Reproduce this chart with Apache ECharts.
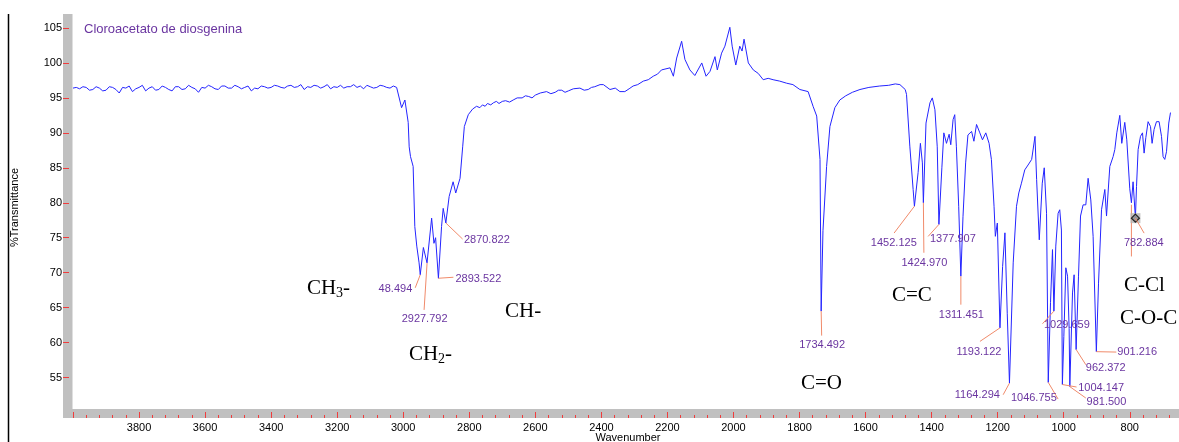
<!DOCTYPE html>
<html>
<head>
<meta charset="utf-8">
<script src="https://cdn.jsdelivr.net/npm/echarts@6/dist/echarts.min.js"></script>
<style>
    html, body { margin: 0; padding: 0; background: #fff; }
    #chart_div { width: 1179px; height: 442px; }
</style>
</head>
<body>
<div id="chart_div"></div>
<script>
// flat part 4000 -> 3020 cm-1, one reading every 10 cm-1
var baselineStart = 4000, baselineStep = 10;
var baselineT = [96.4,96.5,96.3,96.6,96.5,96.1,96.2,96.6,96.4,96.0,96.1,96.6,96.5,96.2,95.7,96.5,96.4,96.7,95.9,96.3,
    96.5,96.8,96.0,96.4,96.6,96.1,96.2,96.7,96.5,96.2,96.0,96.6,96.6,96.2,96.3,96.8,96.5,96.3,95.8,96.5,
    96.4,96.8,96.6,96.3,96.2,96.7,96.7,96.4,96.4,96.8,96.6,96.3,96.5,96.7,96.0,96.4,96.3,96.7,96.6,96.4,
    96.5,96.8,96.7,96.5,96.4,96.7,96.8,96.5,96.6,96.9,96.2,96.6,96.5,96.8,96.7,96.4,96.6,96.9,96.3,96.6,
    96.5,96.8,96.4,96.6,96.6,96.9,96.5,96.7,96.3,96.8,96.6,96.4,96.5,96.8,96.7,96.5,96.4,96.7,96.5];

// rest of the spectrum (cm-1, %T)
var wavenumber = [3005,2995,2985,2982,2978,2970,2965,2959,2952,2948.5,
    2939,2928,2914,2907,2902,2893.5,2884,2879,2871,2861,2849,2841,2828,2820,2815,2803,2790,2778,2768,2760,2752,2745,
    2735,2727,2718,2710,2700,2690,2678,2667,2655,2640,2630,2620,2610,2600,2585,2566,2553,2540,2530,2520,2510,2500,2485,2465,2452,2440,2430,2420,2404,2394,2374,2358,2344,2329,2316,2304,
    2290,2273,2258,2243,2230,2218,2192,2182,2172,2157,2147,2132,2117,2096,2083,2071,2056,2049,2036,2026,
    2011,2004,1993,1981,1974,1968,1955,1940,1925,1910,1895,1880,1860,1839,1820,1799,1774,1759,1748,1738,
    1734.5,1729,1718,1708,1693,1678,1660,1640,1617,1590,1557,1530,1510,1496,1480,1476,1466,1456,1452.1,1441,
    1434,1428,1425,1417,1405,1398,1390,1383,1377.9,1369,1363,1355,1347,1342,1335,1330,1325,1318,1311.5,1305,
    1297,1290,1279,1272,1264,1254,1246,1236,1226,1219,1211,1207,1201,1193.1,1185,1178,1171,1164.3,1153,1143,
    1136,1128,1118,1108,1097,1087,1082,1074,1065,1059,1052,1046.8,1040,1034,1029.7,1024,1017,1012,1007,1004.1,
    999.6,993.6,988.4,983.6,981.5,973.4,968.5,962.4,955.2,949.1,941.3,933.1,926.1,918,911,901.2,894.6,885.5,875.5,870.4,
    860.4,850.4,845.3,839.3,830.2,824.2,815.1,809,800,795,790,782.9,779.6,774.7,767.5,761.4,756.6,751.4,744.5,737.2,
    732.4,726.3,719.1,711.2,703.9,699.1,694,688.8,681.9,676.7];
var transmittance = [93.6,94.7,91.5,88.0,86.6,85.2,76.6,73.8,71.4,69.7,
    73.6,71.4,77.8,74.2,75.0,69.2,76.6,79.2,77.1,80.9,83.0,81.4,83.5,88.0,90.9,92.6,93.4,93.8,93.6,94.0,93.8,94.2,
    94.0,94.3,94.5,94.2,94.5,94.6,94.4,94.7,95.0,95.0,95.3,95.2,95.0,95.4,95.7,95.9,95.6,95.8,96.1,96.1,95.8,96.0,96.3,96.4,96.1,96.2,96.5,96.6,96.9,96.9,96.2,96.4,95.9,95.9,96.3,96.7,
    96.9,97.4,97.6,98.1,98.4,99.0,99.3,98.1,100.7,103.1,100.5,99.0,98.2,100.0,98.1,98.8,100.9,99.0,101.4,102.4,
    105.1,102.4,99.7,102.4,101.7,103.4,100.0,99.0,98.5,97.6,97.8,97.6,97.4,97.1,96.9,96.2,95.9,93.8,92.4,86.2,
    64.5,76.0,85.2,90.9,93.6,94.7,95.3,95.8,96.2,96.5,96.7,96.8,97.0,96.9,96.2,95.5,88.1,81.9,79.5,84.3,
    88.5,85.7,80.0,91.4,94.3,95.0,93.3,88.0,76.9,85.0,90.0,88.5,89.8,88.3,91.9,92.6,88.0,79.5,69.5,78.0,
    85.7,89.7,90.2,88.8,91.2,90.0,89.0,90.0,88.5,86.2,79.5,75.2,77.1,62.1,70.9,75.7,64.2,54.2,71.4,79.5,
    81.4,82.8,84.7,85.4,86.2,89.5,83.3,74.7,82.8,85.0,78.5,54.3,65.7,73.3,64.5,73.8,78.5,79.0,76.1,54.0,
    60.9,70.7,69.5,62.0,53.7,67.1,69.7,59.0,69.5,78.1,79.7,79.7,83.5,80.4,75.2,58.7,68.5,79.0,81.9,78.1,
    85.2,86.6,87.6,90.0,92.5,88.5,91.5,89.0,82.0,80.0,83.0,77.8,82.3,87.6,89.5,90.0,87.1,89.3,91.6,90.9,
    88.5,90.5,91.6,91.6,89.5,86.6,86.2,87.3,91.4,92.9];

// picked peaks
var peakWn = [2948.494, 2927.792, 2893.522, 2870.822, 1734.492, 1452.125, 1424.970, 1377.907, 1311.451,
    1193.122, 1164.294, 1046.755, 1029.659, 1004.147, 981.500, 962.372, 901.216, 782.884];
var peakT = [69.7, 71.4, 69.2, 77.1, 64.5, 79.5, 80.0, 76.9, 69.5, 62.1, 54.2, 54.3, 64.5, 54.0, 53.7, 59.0, 58.7, 77.8];
var peakText = ['48.494', '2927.792', '2893.522', '2870.822', '1734.492', '1452.125', '1424.970', '1377.907', '1311.451',
    '1193.122', '1164.294', '1046.755', '1029.659', '1004.147', '981.500', '962.372', '901.216', '782.884'];

// tick labels
var xLabels = [800, 1000, 1200, 1400, 1600, 1800, 2000, 2200, 2400, 2600, 2800, 3000, 3200, 3400, 3600, 3800];
var xMajorTicks = [800, 1000, 1200, 1400, 1600, 1800, 2000, 2200, 2400, 2600, 2800, 3000, 3200, 3400, 3600, 3800, 4000];
var xMinorTicks = [];
for (var t = 680; t < 4000; t += 40) { if (t % 200 !== 0) xMinorTicks.push(t); }
var yLabels = [55, 60, 65, 70, 75, 80, 85, 90, 95, 100, 105];

// label placement: [line end dx, dy, text dx, dy, align]
var peakLayout = [
    [-5, 13, -8, 14.5, 'right'],
    [-3, 47, -2.5, 56, 'center'],
    [15, -1, 17, 0.5, 'left'],
    [16.7, 16, 18, 17, 'left'],
    [0.5, 24.5, 1, 34, 'center'],
    [-20.3, 26.8, -20.6, 36.5, 'center'],
    [0.5, 50, 1, 60, 'center'],
    [-10.8, 12, -9, 14.5, 'left'],
    [0, 28.5, 0.5, 38.5, 'center'],
    [-20, 13.5, -21, 24.3, 'center'],
    [-6.3, 11.6, -9.6, 12, 'right'],
    [9.8, 16.6, 8.5, 15.8, 'right'],
    [-11.4, 12.6, -10, 13.6, 'left'],
    [14.2, 2.5, 15.8, 3, 'left'],
    [16, 11.4, 16.7, 15, 'left'],
    [9.7, 15.2, 9.7, 18.5, 'left'],
    [20, 0.4, 21, 0.4, 'left'],
    [8.7, 15, 8.4, 25.3, 'center']
];

var sans = '"Liberation Sans", Arial, sans-serif';
var serif = '"Liberation Serif", "Times New Roman", serif';
var purple = '#6a35a0';
var salmon = '#f08a6a';
var tickRed = '#f03c3c';

var spectrum = [];
for (var b = 0; b < baselineT.length; b++) spectrum.push([baselineStart - b * baselineStep, baselineT[b]]);
for (var i = 0; i < wavenumber.length; i++) spectrum.push([wavenumber[i], transmittance[i]]);

var myChart = echarts.init(document.getElementById('chart_div'));
myChart.setOption({
    animation: false,
    grid: { left: 73, right: 3, top: 14, bottom: 33 },
    xAxis: [
        {
            type: 'value', min: 660, max: 4000, inverse: true, position: 'bottom', offset: 9, z: 5,
            axisLine: { show: false },
            axisTick: { inside: true, length: 6, customValues: xMajorTicks, lineStyle: { color: tickRed } },
            axisLabel: { customValues: xLabels, margin: 4, fontSize: 11, color: '#000', fontFamily: sans,
                formatter: function (v) { return String(v); } },
            splitLine: { show: false }
        },
        {
            type: 'value', min: 660, max: 4000, inverse: true, position: 'bottom', offset: 9, z: 5,
            axisLine: { show: false },
            axisTick: { inside: true, length: 3, customValues: xMinorTicks, lineStyle: { color: tickRed } },
            axisLabel: { show: false },
            splitLine: { show: false }
        }
    ],
    yAxis: {
        type: 'value', min: 50.5, max: 107, offset: 4, z: 5,
        axisLine: { show: false },
        axisTick: { length: 6, customValues: yLabels, lineStyle: { color: tickRed } },
        axisLabel: { customValues: yLabels, margin: 7, fontSize: 11, color: '#000', fontFamily: sans },
        splitLine: { show: false }
    },
    series: [
        {
            type: 'line', data: spectrum, showSymbol: false, silent: true,
            lineStyle: { color: '#2424ff', width: 1 }, z: 3
        },
        {
            type: 'scatter', data: [[peakWn[17], peakT[17]]], symbol: 'rect', symbolSize: 10,
            itemStyle: { color: '#b4b4b4' }, z: 4, silent: true
        },
        {
            type: 'scatter', data: [[peakWn[17], peakT[17]]], symbol: 'diamond', symbolSize: 8,
            itemStyle: { color: '#8c8c8c', borderColor: '#000', borderWidth: 1.2 }, z: 5, silent: true
        }
    ]
});

// annotations
var g = [
    { type: 'rect', z: -1, shape: { x: 63, y: 14, width: 9.5, height: 404 }, style: { fill: '#c0c0c0' } },
    { type: 'rect', z: -1, shape: { x: 63, y: 409, width: 1116, height: 9 }, style: { fill: '#c0c0c0' } },
    { type: 'line', shape: { x1: 8.5, y1: 14, x2: 8.5, y2: 442 }, style: { stroke: '#000', lineWidth: 1.5 } },
    { type: 'text', x: 84, y: 29, style: { text: 'Cloroacetato de diosgenina', fill: purple, font: '13px ' + sans, verticalAlign: 'middle' } },
    { type: 'text', x: 15, y: 207.5, rotation: Math.PI / 2, style: { text: '%Transmittance', fill: '#000', font: '11px ' + sans, align: 'center', verticalAlign: 'middle' } },
    { type: 'text', x: 628, y: 437.5, style: { text: 'Wavenumber', fill: '#000', font: '11px ' + sans, align: 'center', verticalAlign: 'middle' } }
];

for (var k = 0; k < peakWn.length; k++) {
    var p = myChart.convertToPixel({ gridIndex: 0 }, [peakWn[k], peakT[k]]);
    var L = peakLayout[k];
    g.push({ type: 'line', z: 10, shape: { x1: p[0], y1: p[1], x2: p[0] + L[0], y2: p[1] + L[1] }, style: { stroke: salmon, lineWidth: 1 } });
    g.push({ type: 'text', z: 10, x: p[0] + L[2], y: p[1] + L[3], style: { text: peakText[k], fill: purple, font: '11px ' + sans, align: L[4], verticalAlign: 'middle' } });
}
// cursor line at the last peak
var c = myChart.convertToPixel({ gridIndex: 0 }, [peakWn[17], peakT[17]]);
g.push({ type: 'line', z: 2, shape: { x1: c[0] - 4, y1: c[1] - 13.4, x2: c[0] - 4, y2: c[1] + 38.3 }, style: { stroke: salmon, lineWidth: 1 } });

// group names
function groupText(x, y, main, sub, tail) {
    g.push({ type: 'text', x: x, y: y, style: { text: main, fill: '#000', font: '21px ' + serif, verticalAlign: 'middle' } });
    if (sub) {
        g.push({ type: 'text', x: x + 29, y: y + 5, style: { text: sub, fill: '#000', font: '14px ' + serif, verticalAlign: 'middle' } });
        g.push({ type: 'text', x: x + 36, y: y, style: { text: tail, fill: '#000', font: '21px ' + serif, verticalAlign: 'middle' } });
    }
}
groupText(307, 288, 'CH', '3', '-');
groupText(409, 354, 'CH', '2', '-');
groupText(505, 311, 'CH-');
groupText(801, 383, 'C=O');
groupText(892, 295, 'C=C');
groupText(1124, 285, 'C-Cl');
groupText(1120, 318, 'C-O-C');

myChart.setOption({ graphic: g });
</script>
</body>
</html>
